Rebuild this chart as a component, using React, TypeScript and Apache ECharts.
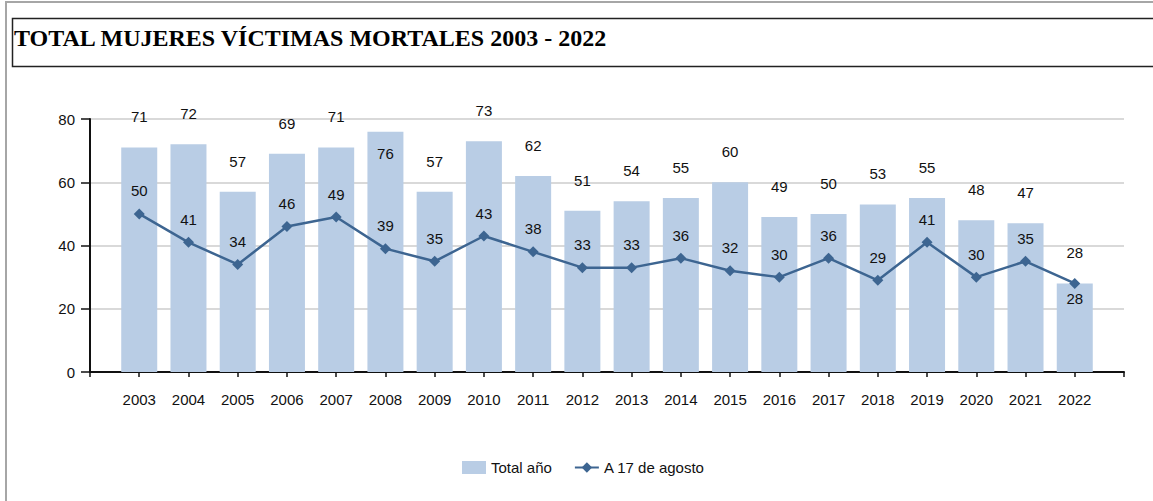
import React, { useEffect, useRef } from "react";
import * as echarts from "echarts";

const TITLE = "TOTAL MUJERES VÍCTIMAS MORTALES 2003 - 2022";
const years = ["2003","2004","2005","2006","2007","2008","2009","2010","2011","2012","2013","2014","2015","2016","2017","2018","2019","2020","2021","2022"];
const totalAnio = [71,72,57,69,71,76,57,73,62,51,54,55,60,49,50,53,55,48,47,28];
const a17Agosto = [50,41,34,46,49,39,35,43,38,33,33,36,32,30,36,29,41,30,35,28];
const yTicks = [0, 20, 40, 60, 80];
const seriesNames = ["Total año", "A 17 de agosto"];
const barLabelInsideYears = ["2008"];
const lineLabelBelowYears = ["2022"];

const FONT = "'Liberation Sans Narrow', 'Arial Narrow', 'Liberation Sans', Arial, sans-serif";
const BAR_COLOR = "#b9cde5";
const LINE_COLOR = "#3d6591";

export default function App() {
  const ref = useRef<HTMLDivElement>(null);
  useEffect(() => {
    if (!ref.current) return;
    const chart = echarts.init(ref.current, undefined, { renderer: "svg" });
    const cats = ["", ...years, ""];
    const barData: any[] = [null, ...totalAnio.map((v, i) =>
      barLabelInsideYears.includes(years[i])
        ? { value: v, label: { position: "insideTop", distance: 14 } }
        : v
    ), null];
    const lineData: any[] = [null, ...a17Agosto.map((v, i) =>
      lineLabelBelowYears.includes(years[i])
        ? { value: v, label: { position: "bottom", distance: 2 } }
        : v
    ), null];
    const labelText = { fontFamily: FONT, fontSize: 15, color: "#111" };
    chart.setOption({
      animation: false,
      backgroundColor: "#ffffff",
      title: {
        text: TITLE,
        left: 14,
        top: 26,
        padding: 0,
        textStyle: { fontFamily: "'Liberation Serif', 'Times New Roman', serif", fontWeight: "bold", fontSize: 24, color: "#000" },
      },
      graphic: [
        { type: "rect", silent: true, z: -10, shape: { x: 6, y: 2, width: 1170, height: 530 }, style: { fill: "none", stroke: "#a6a6a6", lineWidth: 2 } },
        { type: "rect", silent: true, z: -10, shape: { x: 12.5, y: 18.5, width: 1160, height: 48 }, style: { fill: "none", stroke: "#222", lineWidth: 1.5 } },
      ],
      grid: { left: 90, right: 29, top: 119, bottom: 129, containLabel: false },
      legend: {
        left: 457,
        top: 455,
        itemGap: 22,
        itemWidth: 24,
        itemHeight: 13,
        textStyle: { fontFamily: FONT, fontSize: 15, color: "#111" },
        data: [
          { name: seriesNames[0], icon: "rect" },
          { name: seriesNames[1] },
        ],
      },
      xAxis: {
        type: "category",
        data: cats,
        boundaryGap: false,
        axisLine: { lineStyle: { color: "#111", width: 2 } },
        axisTick: { show: true, length: 5, lineStyle: { color: "#111", width: 1.5 } },
        axisLabel: { margin: 20, ...labelText, interval: 0 },
        splitLine: { show: false },
      },
      yAxis: {
        type: "value",
        min: yTicks[0],
        max: yTicks[yTicks.length - 1],
        interval: 20,
        axisLine: { show: true, lineStyle: { color: "#111", width: 2 } },
        axisTick: { show: true, length: 9, lineStyle: { color: "#111", width: 1.5 } },
        axisLabel: { margin: 15, ...labelText },
        splitLine: { show: true, lineStyle: { color: "#d9d9d9", width: 2 } },
      },
      series: [
        {
          name: seriesNames[0],
          type: "bar",
          data: barData,
          barWidth: 36,
          itemStyle: { color: BAR_COLOR },
          label: { show: true, position: "top", distance: 23, ...labelText },
          z: 2,
        },
        {
          name: seriesNames[1],
          type: "line",
          data: lineData,
          symbol: "diamond",
          symbolSize: 11,
          lineStyle: { color: LINE_COLOR, width: 2.5 },
          itemStyle: { color: LINE_COLOR },
          label: { show: true, position: "top", distance: 10, ...labelText },
          z: 3,
        },
      ],
    });
    return () => chart.dispose();
  }, []);
  return (
    <div
      ref={ref}
      style={{ position: "absolute", left: 0, top: 0, width: 1153, height: 501, background: "#fff" }}
    />
  );
}
